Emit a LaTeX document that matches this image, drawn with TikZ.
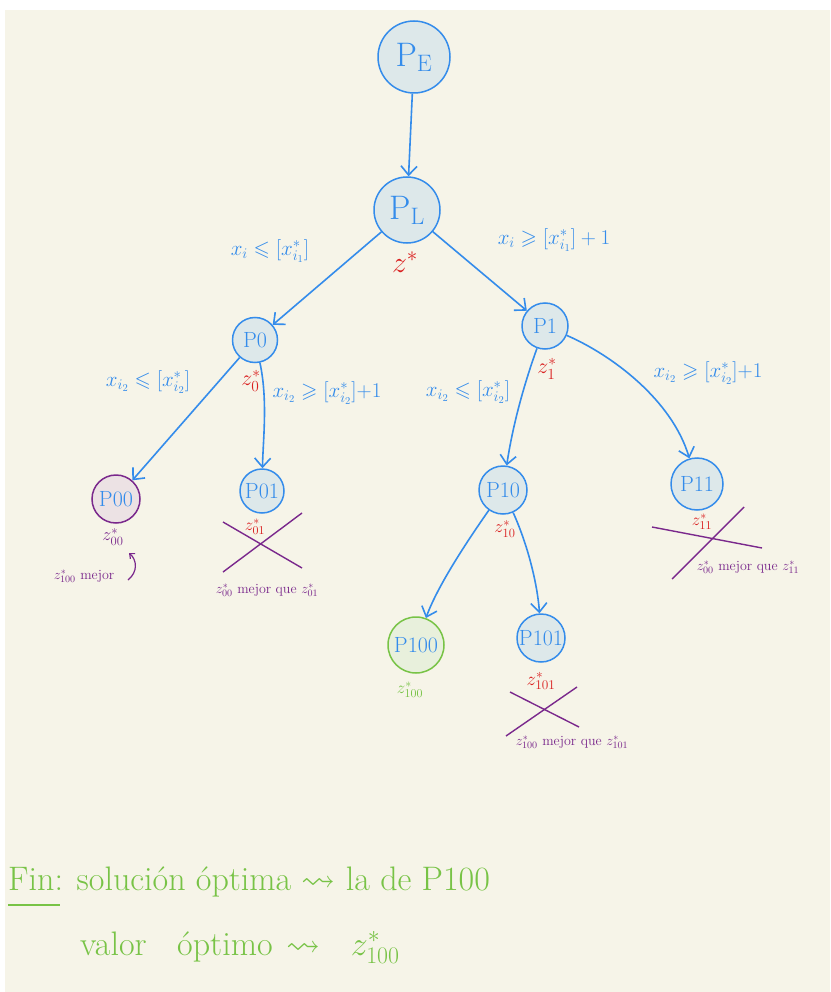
\RequirePackage{fix-cm}
\documentclass[tikz,border=0pt]{standalone}
\usepackage{amssymb}
\usetikzlibrary{arrows.meta}
\definecolor{pblue}{RGB}{52,140,235}
\definecolor{pfill}{RGB}{221,232,234}
\definecolor{cream}{RGB}{246,244,232}
\definecolor{zred}{RGB}{218,32,32}
\definecolor{purp}{RGB}{122,40,140}
\definecolor{pgreen}{RGB}{120,195,70}
\definecolor{pinkfill}{RGB}{236,226,228}
\definecolor{greenfill}{RGB}{232,240,220}
\tikzset{
  pnode/.style={circle, draw=pblue, fill=pfill, line width=1.5pt, text=pblue, inner sep=0pt, minimum size=#1, font=\fontsize{22}{24}\selectfont},
  bignode/.style={pnode=#1, font=\fontsize{34}{36}\selectfont},
  arr/.style={draw=pblue, line width=1.6pt, -{Straight Barb[length=9pt,width=16pt]}},
  cond/.style={text=pblue, font=\fontsize{21}{23}\selectfont, inner sep=1pt},
  zr/.style={text=zred, font=\fontsize{22}{24}\selectfont, inner sep=1pt},
  zp/.style={text=purp, font=\fontsize{14}{16}\selectfont, inner sep=1pt},
  cross/.style={draw=purp, line width=1.4pt},
  note/.style={text=pgreen, font=\fontsize{34}{38}\selectfont, inner sep=0pt, anchor=base west},
}
\begin{document}
\begin{tikzpicture}[x=1pt, y=-1pt]
\useasboundingbox (0,0) rectangle (830,992);
\fill[white] (0,0) rectangle (830,992);
\fill[cream] (5,10) rectangle (830,992);

% nodes
\node[bignode=72pt] (PE) at (414,57) {$\mathrm{P}_{\mathrm{E}}$};
\node[bignode=66pt] (PL) at (407,210) {$\mathrm{P}_{\mathrm{L}}$};
\node[pnode=45pt] (P0) at (255,340) {P0};
\node[pnode=46pt] (P1) at (545,326) {P1};
\node[pnode=48pt, draw=purp, fill=pinkfill] (P00) at (116,499) {P00};
\node[pnode=44pt] (P01) at (262,491) {P01};
\node[pnode=52pt] (P11) at (697,484) {P11};
\node[pnode=48pt] (P10) at (503,490) {P10};
\node[pnode=56pt, draw=pgreen, fill=greenfill] (P100) at (416,645) {P100};
\node[pnode=48pt] (P101) at (541,638) {P101};

% edges
\draw[arr] (PE) -- (PL);
\draw[arr] (PL) -- (P0);
\draw[arr] (PL) -- (P1);
\draw[arr] (P0) -- (P00);
\draw[arr] (P0) .. controls (268,400) and (263,440) .. (P01);
\draw[arr] (P1) .. controls (522,390) and (512,430) .. (P10);
\draw[arr] (P1) .. controls (612,355) and (672,400) .. (P11);
\draw[arr] (P10) .. controls (468,540) and (438,585) .. (P100);
\draw[arr] (P10) .. controls (530,550) and (538,590) .. (P101);

% branching conditions
\node[cond] (c1) at (270,251) {$x_i \leqslant [x^*_{i_1}]$};
\node[cond] (c2) at (554,240) {$x_i \geqslant [x^*_{i_1}] + 1$};
\node[cond] (c3) at (148,382) {$x_{i_2} \leqslant [x^*_{i_2}]$};
\node[cond] (c4) at (327,393) {$x_{i_2} \geqslant [x^*_{i_2}]{+}1$};
\node[cond] (c5) at (468,392) {$x_{i_2} \leqslant [x^*_{i_2}]$};
\node[cond] (c6) at (708,373) {$x_{i_2} \geqslant [x^*_{i_2}]{+}1$};

% values
\node[zr, font=\fontsize{30}{32}\selectfont] (zs) at (405,262) {$z^*$};
\node[zr] (z0) at (251,381) {$z^*_0$};
\node[zr] (z1) at (547,369) {$z^*_1$};
\node[zp, font=\fontsize{18}{20}\selectfont] (z00) at (113,537) {$z^*_{00}$};
\node[zr, font=\fontsize{18}{20}\selectfont] (z10) at (505,529) {$z^*_{10}$};
\node[text=pgreen, font=\fontsize{17}{19}\selectfont, inner sep=1pt] (z100) at (410,690) {$z^*_{100}$};

% P00 note
\node[zp] (m00) at (84,576) {$z^*_{100}$ mejor};
\coordinate (a1) at (128,580);
\coordinate (a2) at (129,553);
\draw[draw=purp, line width=1.2pt, -{Straight Barb[length=4pt,width=7pt]}] (a1) .. controls (138,572) and (137,560) .. (a2);

% P01 pruned
\coordinate (x1a) at (223,522); \coordinate (x1b) at (302,568);
\coordinate (x1c) at (223,572); \coordinate (x1d) at (302,513);
\draw[cross] (x1a) -- (x1b);
\draw[cross] (x1c) -- (x1d);
\node[zr, font=\fontsize{17}{19}\selectfont] (z01) at (255,527) {$z^*_{01}$};
\node[zp] (m01) at (267,590) {$z^*_{00}$ mejor que $z^*_{01}$};

% P11 pruned
\coordinate (x2a) at (652,527); \coordinate (x2b) at (762,548);
\coordinate (x2c) at (672,579); \coordinate (x2d) at (744,507);
\draw[cross] (x2a) -- (x2b);
\draw[cross] (x2c) -- (x2d);
\node[zr, font=\fontsize{17}{19}\selectfont] (z11) at (702,522) {$z^*_{11}$};
\node[zp] (m11) at (748,567) {$z^*_{00}$ mejor que $z^*_{11}$};

% P101 pruned
\coordinate (x3a) at (510,692); \coordinate (x3b) at (579,727);
\coordinate (x3c) at (506,736); \coordinate (x3d) at (577,687);
\draw[cross] (x3a) -- (x3b);
\draw[cross] (x3c) -- (x3d);
\node[zr, font=\fontsize{19}{21}\selectfont] (z101) at (541,681) {$z^*_{101}$};
\node[zp] (m101) at (572,742) {$z^*_{100}$ mejor que $z^*_{101}$};

% conclusion
\node[note] (fin) at (8,890) {Fin: soluci\'on \'optima $\rightsquigarrow$ la de P100};
\node[note] (val) at (80,955) {valor\hspace{0.9em}\'optimo\hspace{0.4em}$\rightsquigarrow$\hspace{0.9em}$z^*_{100}$};
\coordinate (u1) at (8,905);
\coordinate (u2) at (60,905);
\draw[draw=pgreen, line width=1.4pt] (u1) -- (u2);
\end{tikzpicture}
\end{document}
